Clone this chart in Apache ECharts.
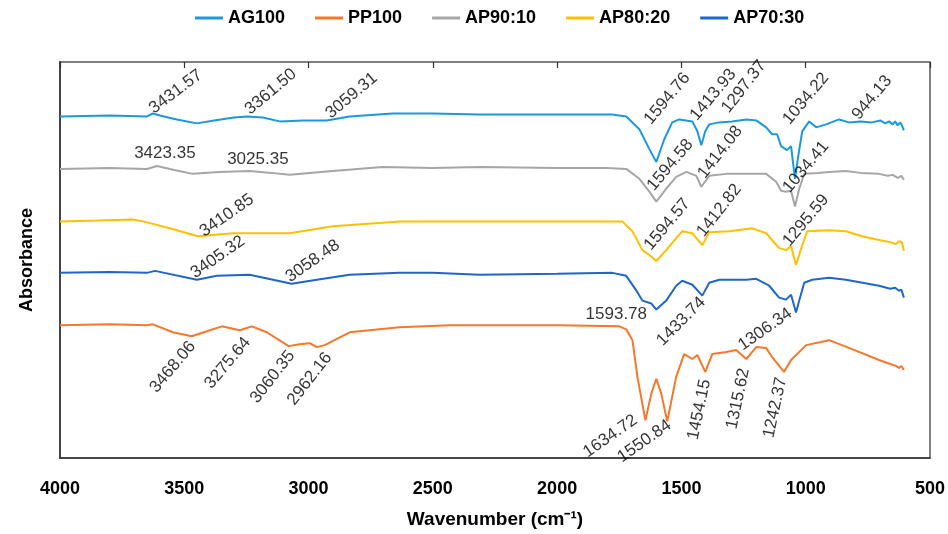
<!DOCTYPE html>
<html>
<head>
<meta charset="utf-8">
<script src="https://cdn.jsdelivr.net/npm/echarts@6/dist/echarts.min.js"></script>
<style>html,body{margin:0;padding:0;background:#fff}#c{width:948px;height:534px}</style>
</head>
<body>
<div id="c"></div>
<script>
// ---- Data (wavenumber cm^-1, relative absorbance) ----
const seriesNames = ['AG100', 'PP100', 'AP90:10', 'AP80:20', 'AP70:30'];
const xTicks = [4000, 3500, 3000, 2500, 2000, 1500, 1000, 500];

const AG100 = [[4000,3.45],[3800,3.46],[3650,3.45],[3626,3.48],[3598,3.46],[3530,3.42],[3449,3.38],[3380,3.41],[3300,3.44],[3249,3.45],[3184,3.44],[3116,3.40],[3020,3.41],[2927,3.41],[2835,3.45],[2662,3.48],[2501,3.48],[2312,3.47],[2100,3.47],[1900,3.47],[1778,3.47],[1722,3.45],[1669,3.32],[1629,3.12],[1601,2.99],[1569,3.22],[1537,3.39],[1509,3.42],[1456,3.40],[1436,3.30],[1420,3.16],[1404,3.30],[1388,3.37],[1348,3.39],[1296,3.40],[1239,3.42],[1199,3.41],[1159,3.34],[1135,3.27],[1115,3.27],[1099,3.15],[1075,3.11],[1059,3.15],[1043,2.82],[1030,3.05],[1014,3.30],[986,3.40],[958,3.34],[918,3.37],[866,3.42],[826,3.39],[780,3.40],[733,3.39],[700,3.41],[680,3.38],[665,3.40],[650,3.37],[640,3.40],[630,3.36],[620,3.39],[613,3.36],[608,3.38],[605,3.31]];
const AP90_10 = [[4000,2.92],[3800,2.93],[3650,2.92],[3610,2.95],[3540,2.91],[3466,2.87],[3360,2.89],[3237,2.90],[3150,2.88],[3076,2.86],[2903,2.90],[2702,2.94],[2500,2.93],[2312,2.94],[2000,2.93],[1800,2.93],[1722,2.92],[1669,2.82],[1629,2.69],[1601,2.59],[1561,2.72],[1521,2.84],[1480,2.89],[1440,2.85],[1420,2.74],[1388,2.85],[1320,2.87],[1239,2.87],[1159,2.87],[1119,2.79],[1099,2.70],[1079,2.69],[1059,2.70],[1043,2.54],[1026,2.72],[1006,2.87],[950,2.88],[906,2.89],[838,2.90],[780,2.88],[705,2.87],[670,2.85],[650,2.86],[630,2.83],[615,2.85],[605,2.81]];
const AP80_20 = [[4000,2.39],[3850,2.40],[3707,2.41],[3666,2.39],[3558,2.32],[3445,2.24],[3305,2.27],[3076,2.27],[2903,2.34],[2634,2.39],[2312,2.39],[2000,2.39],[1738,2.39],[1697,2.29],[1657,2.10],[1629,2.05],[1601,1.99],[1561,2.10],[1521,2.22],[1497,2.29],[1456,2.27],[1416,2.15],[1388,2.28],[1308,2.29],[1215,2.32],[1159,2.27],[1107,2.12],[1079,2.10],[1059,2.14],[1039,1.95],[1018,2.12],[994,2.29],[906,2.30],[838,2.29],[773,2.24],[700,2.20],[660,2.18],[637,2.16],[625,2.19],[613,2.18],[608,2.20],[605,2.09]];
const AP70_30 = [[4000,1.87],[3800,1.88],[3650,1.87],[3618,1.89],[3449,1.80],[3369,1.84],[3237,1.85],[3068,1.76],[2967,1.80],[2835,1.85],[2634,1.87],[2501,1.87],[2312,1.85],[2000,1.86],[1778,1.87],[1722,1.84],[1681,1.69],[1657,1.59],[1621,1.56],[1601,1.50],[1561,1.59],[1521,1.74],[1497,1.79],[1456,1.75],[1416,1.64],[1388,1.77],[1348,1.80],[1239,1.80],[1199,1.81],[1147,1.74],[1107,1.62],[1079,1.60],[1059,1.65],[1039,1.47],[1026,1.59],[1006,1.77],[974,1.80],[906,1.82],[838,1.80],[705,1.74],[660,1.71],[640,1.72],[625,1.69],[615,1.70],[605,1.62]];
const PP100 = [[4000,1.34],[3800,1.35],[3650,1.34],[3626,1.35],[3546,1.27],[3470,1.23],[3409,1.28],[3349,1.33],[3277,1.29],[3228,1.33],[3168,1.27],[3080,1.13],[3036,1.15],[2995,1.16],[2967,1.12],[2935,1.14],[2835,1.27],[2634,1.32],[2433,1.34],[2312,1.34],[2000,1.34],[1750,1.33],[1722,1.30],[1697,1.19],[1677,0.82],[1645,0.38],[1621,0.65],[1601,0.80],[1581,0.65],[1557,0.37],[1521,0.82],[1489,1.05],[1456,1.00],[1436,1.04],[1404,0.87],[1376,1.05],[1320,1.07],[1280,1.09],[1239,1.00],[1199,1.12],[1159,1.11],[1135,1.02],[1087,0.87],[1059,0.99],[998,1.14],[906,1.19],[813,1.10],[705,0.99],[660,0.95],[637,0.93],[625,0.91],[615,0.93],[605,0.89]];

// Peak annotations: [wavenumber, y, text, rotation]
const peakLabels = [
  [3534,3.70,'3431.57',37],[3152,3.70,'3361.50',40],[2827,3.66,'3059.31',40],
  [3578,3.08,'3423.35',0],[3204,3.02,'3025.35',0],
  [3329,2.45,'3410.85',35],
  [3365,2.03,'3405.32',35],[2983,1.99,'3058.48',35],
  [3546,0.92,'3468.06',50],[3325,0.96,'3275.64',50],[3144,0.82,'3060.35',52],[2995,0.80,'2962.16',52],
  [1557,3.63,'1594.76',50],[1372,3.67,'1413.93',50],[1248,3.75,'1297.37',52],[999,3.63,'1034.22',50],[733,3.64,'944.13',50],
  [1545,2.96,'1594.58',50],[1344,3.09,'1414.08',52],[999,2.94,'1034.41',50],
  [1557,2.36,'1594.57',50],[1348,2.50,'1412.82',52],[999,2.40,'1295.59',50],
  [1762,1.45,'1593.78',0],[1501,1.38,'1433.74',45],[1163,1.30,'1306.34',35],
  [1786,0.22,'1634.72',35],[1649,0.17,'1550.84',35],
  [1428,0.49,'1454.15',78],[1272,0.60,'1315.62',78],[1123,0.51,'1242.37',78]
];

const colors = {'AG100':'#1C98DE','PP100':'#F5782B','AP90:10':'#A6A6A6','AP80:20':'#FFC000','AP70:30':'#1F66C9'};
const dataMap = {'AG100':AG100,'PP100':PP100,'AP90:10':AP90_10,'AP80:20':AP80_20,'AP70:30':AP70_30};

const chart = echarts.init(document.getElementById('c'), null, {renderer:'canvas'});

const lineSeries = seriesNames.map(n => ({
  name: n, type: 'line', data: dataMap[n], symbol: 'none', smooth: false,
  lineStyle: {color: colors[n], width: 2}, itemStyle: {color: colors[n]},
  xAxisIndex: 0, yAxisIndex: 0, silent: true, z: 2
}));

const labelSeries = {
  name: 'peaks', type: 'scatter', symbolSize: 0, silent: true, z: 5,
  xAxisIndex: 0, yAxisIndex: 0,
  data: peakLabels.map(p => ({value: [p[0], p[1]], name: p[2], label: {rotate: p[3]}})),
  label: {
    show: true, position: 'inside', align: 'center', verticalAlign: 'middle',
    formatter: p => p.name, color: '#000', fontSize: 17,
    fontFamily: 'Liberation Sans, Arial, sans-serif'
  }
};

chart.setOption({
  animation: false,
  backgroundColor: '#fff',
  legend: {
    data: seriesNames, top: 4, left: 190, itemWidth: 28, itemHeight: 3, itemGap: 30,
    icon: 'rect',
    textStyle: {fontSize: 18, fontWeight: 'bold', color: '#000', fontFamily: 'Liberation Sans, Arial, sans-serif'}
  },
  grid: {left: 60, right: 17, top: 62, bottom: 72, show: true, borderColor: '#555', borderWidth: 1.5},
  xAxis: [{
    type: 'value', min: 500, max: 4000, interval: 500, inverse: true, position: 'bottom',
    axisLine: {show: true, lineStyle: {color: '#333', width: 1.5}},
    axisTick: {show: false}, splitLine: {show: false},
    axisLabel: {
      color: '#000', fontSize: 18, fontWeight: 'bold', margin: 22,
      fontFamily: 'Liberation Sans Narrow, Arial Narrow, sans-serif',
      formatter: v => xTicks.includes(v) ? String(v) : ''
    },
    name: 'Wavenumber (cm\u207B\u00B9)', nameLocation: 'middle', nameGap: 52,
    nameTextStyle: {fontSize: 19, fontWeight: 'bold', color: '#000', fontFamily: 'Liberation Sans Narrow, Arial Narrow, sans-serif'}
  }, {
    type: 'value', min: 500, max: 4000, interval: 500, inverse: true, position: 'top',
    axisLine: {show: false},
    axisTick: {show: true, inside: true, length: 6, lineStyle: {color: '#333', width: 1.2}},
    axisLabel: {show: false}, splitLine: {show: false}
  }],
  yAxis: [{
    type: 'value', min: 0, max: 4,
    axisLine: {show: true, lineStyle: {color: '#444', width: 2}},
    axisTick: {show: false}, axisLabel: {show: false}, splitLine: {show: false},
    name: 'Absorbance', nameLocation: 'middle', nameGap: 24, nameRotate: 90,
    nameTextStyle: {fontSize: 18, fontWeight: 'bold', color: '#000', fontFamily: 'Liberation Sans, Arial, sans-serif'}
  }],
  series: [...lineSeries, labelSeries]
});
</script>
</body>
</html>
